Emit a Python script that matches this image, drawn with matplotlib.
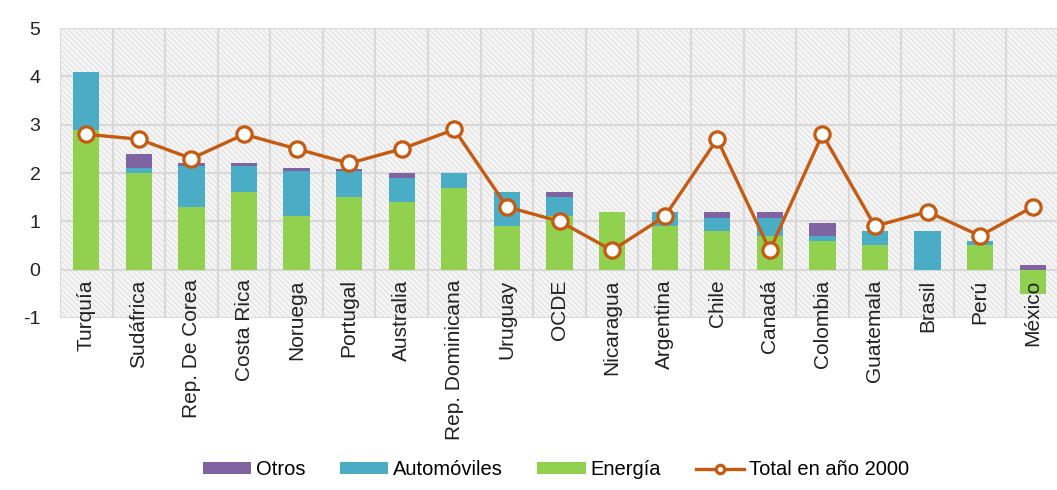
import numpy as np
import matplotlib
matplotlib.use("Agg")
import matplotlib.pyplot as plt
from matplotlib.patches import Rectangle

plt.rcParams['font.family'] = ['Liberation Sans', 'DejaVu Sans']
plt.rcParams['axes.unicode_minus'] = False
plt.rcParams['hatch.linewidth'] = 0.6
plt.rcParams['hatch.color'] = '#dcdcdc'

paises = ["Turquía", "Sudáfrica", "Rep. De Corea", "Costa Rica", "Noruega", "Portugal",
          "Australia", "Rep. Dominicana", "Uruguay", "OCDE", "Nicaragua", "Argentina",
          "Chile", "Canadá", "Colombia", "Guatemala", "Brasil", "Perú", "México"]
energia = [2.9, 2.0, 1.3, 1.6, 1.1, 1.5, 1.4, 1.7, 0.9, 1.1, 1.2, 0.9,
           0.8, 0.7, 0.6, 0.5, 0.0, 0.5, -0.5]
automoviles = [1.2, 0.1, 0.85, 0.55, 0.95, 0.55, 0.5, 0.3, 0.7, 0.4, 0.0, 0.3,
               0.27, 0.37, 0.1, 0.3, 0.8, 0.1, 0.0]
otros = [0.0, 0.3, 0.05, 0.05, 0.05, 0.03, 0.1, 0.0, 0.0, 0.1, 0.0, 0.0,
         0.13, 0.13, 0.27, 0.0, 0.0, 0.0, 0.1]
total_2000 = [2.8, 2.7, 2.3, 2.8, 2.5, 2.2, 2.5, 2.9, 1.3, 1.0, 0.4, 1.1,
              2.7, 0.4, 2.8, 0.9, 1.2, 0.7, 1.3]

c_energia = '#92D050'
c_auto = '#4BACC6'
c_otros = '#8064A2'
c_total = '#C55A11'

fig = plt.figure(figsize=(10.57, 4.90), dpi=100)
ax = fig.add_axes([60 / 1057, 172 / 490, 999 / 1057, 290 / 490])

x = np.arange(len(paises))
energia = np.array(energia)
automoviles = np.array(automoviles)
otros = np.array(otros)

# positive parts stack up from 0, negative energia goes down
base_pos = np.clip(energia, 0, None)
b_en = ax.bar(x, energia, width=0.5, color=c_energia, zorder=2)
b_au = ax.bar(x, automoviles, width=0.5, bottom=base_pos, color=c_auto, zorder=2)
b_ot = ax.bar(x, otros, width=0.5, bottom=base_pos + automoviles, color=c_otros, zorder=2)

ln, = ax.plot(x, total_2000, color=c_total, lw=2.4, marker='o', ms=11, mfc='white',
              mec=c_total, mew=2.3, zorder=4)

ax.set_xlim(-0.5, len(paises) - 0.5)
ax.set_ylim(-1, 5)

# hatched background and grid
ax.patch.set_visible(False)
ax.add_patch(Rectangle((0, 0), 1, 1, transform=ax.transAxes, facecolor='#f5f5f5',
                       edgecolor='#dcdcdc', hatch='\\\\\\\\\\\\', lw=0, zorder=0))
for yv in range(-1, 6):
    ax.axhline(yv, color='#d9d9d9', lw=1.5, zorder=1)
for xv in np.arange(-0.5, len(paises) + 0.5, 1):
    ax.axvline(xv, color='#d9d9d9', lw=1.5, zorder=1)

ax.spines['bottom'].set_position(('data', 0))
for s in ax.spines.values():
    s.set_visible(False)

ax.set_yticks(range(-1, 6))
ax.tick_params(axis='y', length=0, pad=14, labelsize=14, labelcolor='#222222')
ax.set_xticks(x)
ax.set_xticklabels(paises, rotation=90, fontsize=15, color='#222222')
ax.tick_params(axis='x', length=0, pad=7)
ax.xaxis.set_zorder(3)  # labels drawn over the negative bar (México)

fig.legend([b_ot, b_au, b_en, ln], ['Otros', 'Automóviles', 'Energía', 'Total en año 2000'],
           loc='center', bbox_to_anchor=(0.526, 0.041), ncol=4, frameon=False, fontsize=14.5,
           handlelength=2.4, handleheight=0.55, columnspacing=1.7, handletextpad=0.25,
           markerscale=0.55)

plt.savefig('out.png', dpi=100)
